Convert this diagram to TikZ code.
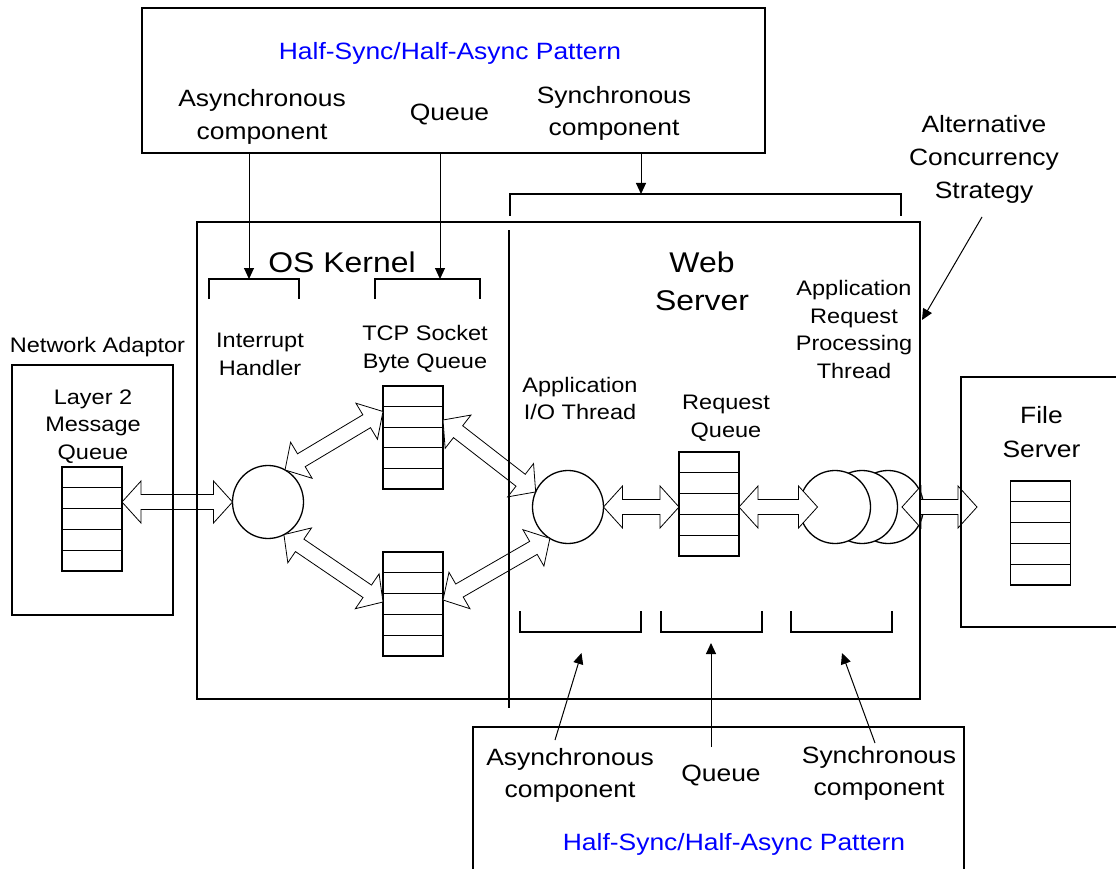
\documentclass[tikz,border=0pt]{standalone}
\usepackage{fontspec}
\setmainfont{Liberation Sans}[FakeStretch=1.12]
\usetikzlibrary{calc,shapes.geometric,arrows.meta}
\newcommand\fsA{\fontsize{23.6}{32.5}\selectfont}
\newcommand\fsB{\fontsize{21}{27.5}\selectfont}
\newcommand\fsC{\fontsize{28.5}{38}\selectfont}
\definecolor{patblue}{RGB}{0,0,255}
\newcommand\fatarrow[2]{%
  \draw[fat] let \p1=(#1), \p2=(#2), \n1={veclen((\x2)-(\x1),(\y2)-(\y1))},
     \p3=({((\x2)-(\x1))/\n1},{((\y2)-(\y1))/\n1}), \p4=({-1*(\y3)},{\x3}) in
   (\p1) -- ($(\p1)+19*(\p3)+21*(\p4)$) -- ($(\p1)+19*(\p3)+7.5*(\p4)$)
   -- ($(\p2)-19*(\p3)+7.5*(\p4)$) -- ($(\p2)-19*(\p3)+21*(\p4)$) -- (\p2)
   -- ($(\p2)-19*(\p3)-21*(\p4)$) -- ($(\p2)-19*(\p3)-7.5*(\p4)$)
   -- ($(\p1)+19*(\p3)-7.5*(\p4)$) -- ($(\p1)+19*(\p3)-21*(\p4)$) -- cycle;}
\begin{document}
\begin{tikzpicture}[x=1pt,y=-1pt,
  box/.style={draw, line width=1.5pt, outer sep=0pt, inner sep=0pt, anchor=north west},
  edge/.style={line width=1.5pt},
  txt/.style={inner sep=0pt, align=center, font=\fsA, yshift=-2.5pt},
  small/.style={inner sep=0pt, align=center, font=\fsB, yshift=-2.5pt},
  title/.style={inner sep=0pt, align=center, font=\fsC},
  queue/.style={draw, line width=1.3pt, minimum width=60pt, minimum height=104pt, inner sep=0pt, outer sep=0pt,
    path picture={\foreach \k in {1,...,4}{\draw[line width=1.3pt]
      ($(path picture bounding box.north west)!\k/5!(path picture bounding box.south west)$) --
      ($(path picture bounding box.north east)!\k/5!(path picture bounding box.south east)$);}}},
  thread/.style={ellipse, draw, fill=white, line width=1.3pt, minimum width=71pt, minimum height=73pt, inner sep=0pt, outer sep=0pt},
  fat/.style={draw=black, fill=white, line width=0.8pt, line join=miter},
  arr/.style={line width=1pt, -{Triangle[length=11pt,width=10pt]}},
  brk/.style={line width=1.5pt}]
\useasboundingbox (0,0) rectangle (1116,869);

% queues
\node[queue] (l2q) at (92,519) {};
\node[queue, minimum height=103pt] (tcp1) at (413,437.5) {};
\node[queue] (tcp2) at (413,604) {};
\node[queue] (rq) at (709,504) {};
\node[queue] (fq) at (1040.5,533) {};

% threads
\node[thread] (ih) at (268,502) {};
\node[thread] (io) at (568,507) {};
\node[thread] (t3) at (888,507) {};
\node[thread] (t2) at (862,507) {};
\node[thread] (t1) at (835,507) {};

% boxes
\node[box, minimum width=623pt, minimum height=145pt] (topbox) at (142,8) {};
\node[box, minimum width=723pt, minimum height=477pt] (main) at (197,222) {};
\node[box, minimum width=161pt, minimum height=250pt] (nbox) at (12,365) {};
\node[box, minimum width=170pt, minimum height=250pt] (fbox) at (961,377) {};
\node[box, minimum width=491pt, minimum height=170pt] (bbox) at (473,727) {};

% fat double arrows
\fatarrow{l2q.east |- ih.west}{ih.west}
\fatarrow{ih.62}{[yshift=26pt]tcp1.west}
\fatarrow{[yshift=17.5pt]tcp1.east}{io.155}
\fatarrow{ih.-64}{[yshift=2pt]tcp2.west}
\fatarrow{[yshift=4pt]tcp2.east}{io.-120}
\fatarrow{io.east}{rq.west |- io.east}
\fatarrow{rq.east |- t1.west}{[xshift=18pt]t1.west}
\fatarrow{$(t3.center)+(14pt,0pt)$}{$(fbox.west |- t3.center)+(16pt,0pt)$}

% box edges on top
\draw[edge] (nbox.north west) rectangle (nbox.south east);
\draw[edge] (main.north west) rectangle (main.south east);
\draw[edge] (fbox.south east) -- (fbox.south west) -- (fbox.north west) -- (fbox.north east);
\coordinate (dtop) at (509,230);
\coordinate (dbot) at (509,708);
\draw[edge] (dtop) -- (dbot);

% texts
\node[txt, text=patblue] (ttitle) at (450,51) {Half-Sync/Half-Async Pattern};
\node[txt] (tasync) at (262,114.5) {Asynchronous\\component};
\node[txt] (tqueue) at (449.5,111.5) {Queue};
\node[txt] (tsync) at (614,111) {Synchronous\\component};
\node[txt, font=\fontsize{23.6}{33}\selectfont] (alt) at (984,157) {Alternative\\Concurrency\\Strategy};
\node[title] (osk) at (342,262) {OS Kernel};
\node[title] (web) at (702,281) {Web\\Server};
\node[small] (ihl) at (260,352) {Interrupt\\Handler};
\node[small] (tcpl) at (425,346.5) {TCP Socket\\Byte Queue};
\node[small] (netl) at (97.5,345) {Network Adaptor};
\node[small] (l2l) at (93,424) {Layer 2\\Message\\Queue};
\node[small] (iol) at (580,396) {Application\\I/O Thread};
\node[small] (rql) at (726,416) {Request\\Queue};
\node[small] (arpl) at (854,327) {Application\\Request\\Processing\\Thread};
\node[txt, font=\fontsize{23.6}{34}\selectfont] (fsl) at (1041.5,430) {File\\Server};
\node[txt] (basync) at (570,773) {Asynchronous\\component};
\node[txt] (bqueue) at (721,773) {Queue};
\node[txt] (bsync) at (879,771) {Synchronous\\component};
\node[txt, text=patblue] (btitle) at (734,842) {Half-Sync/Half-Async Pattern};

% brackets
\draw[brk] (209,299) -- (209,279) -- (299,279) -- (299,299);
\draw[brk] (375,299) -- (375,279) -- (480,279) -- (480,299);
\draw[brk] (510,216) -- (510,194) -- (901,194) -- (901,216);
\draw[brk] (520,611) -- (520,632) -- (641,632) -- (641,611);
\draw[brk] (661,611) -- (661,632) -- (762,632) -- (762,611);
\draw[brk] (791,611) -- (791,632) -- (892,632) -- (892,611);

% thin arrows
\coordinate (ihb) at (249,279);
\coordinate (tcpb) at (440,279);
\coordinate (wsb) at (641,194);
\draw[arr] (ihb |- topbox.south) -- (ihb);
\draw[arr] (tcpb |- topbox.south) -- (tcpb);
\draw[arr] (wsb |- topbox.south) -- (wsb);
\coordinate (alts) at (982,217);
\coordinate (altt) at (922,320);
\draw[arr] (alts) -- (altt);
\coordinate (b1s) at (555,740);
\coordinate (b1t) at (581.5,653);
\coordinate (b2s) at (711,747);
\coordinate (b2t) at (711,643);
\coordinate (b3s) at (875,743);
\coordinate (b3t) at (842,653);
\draw[arr] (b1s) -- (b1t);
\draw[arr] (b2s) -- (b2t);
\draw[arr] (b3s) -- (b3t);
\end{tikzpicture}
\end{document}
